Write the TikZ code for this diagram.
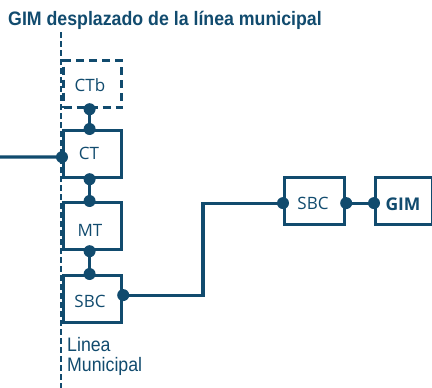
\documentclass[tikz,border=0pt]{standalone}
\usepackage{fontspec}
\setmainfont{Open Sans}
\newfontfamily\condfont[FakeStretch=0.91]{Liberation Sans}
\definecolor{mblue}{RGB}{17,75,110}
\begin{document}
\begin{tikzpicture}[x=1pt,y=-1pt,
  box/.style={draw=mblue, line width=3.2pt, minimum height=47pt, inner sep=0pt, anchor=north west},
  lbl/.style={text=mblue, anchor=base, inner sep=0pt, font=\fontsize{17}{19}\selectfont},
  cond/.style={text=mblue, anchor=base west, inner sep=0pt, font=\condfont\fontsize{19.5}{20}\selectfont},
  wire/.style={draw=mblue, line width=3.2pt},
  dot/.style={fill=mblue}
]
\useasboundingbox (0,0) rectangle (432,388);
% municipal line
\coordinate (mtop) at (61,32);
\coordinate (mbot) at (61,388);
\draw[mblue, line width=2.6pt, dash pattern=on 6pt off 3pt] (mtop) -- (mbot);
% title
\node[cond, font=\condfont\bfseries\fontsize{19.5}{20}\selectfont] (title) at (8,26) {GIM desplazado de la línea municipal};
\node[cond] (linea) at (67,351) {Linea};
\node[cond] (munic) at (67,371) {Municipal};
% boxes
\node[box, minimum width=58pt, dash pattern=on 8pt off 5pt] (ctb) at (62,59) {};
\node[box, minimum width=58pt] (ct) at (62,129) {};
\node[box, minimum width=58pt] (mt) at (62,201) {};
\node[box, minimum width=58pt] (sbca) at (62,274) {};
\node[box, minimum width=60pt] (sbcb) at (283,176) {};
\node[box, minimum width=57pt, fill=white] (gim) at (374,176) {};
% labels
\node[lbl] (tctb) at (90,92) {CTb};
\node[lbl] (tct) at (89,159) {CT};
\node[lbl] (tmt) at (90,236) {MT};
\node[lbl] (tsbca) at (90,307) {SBC};
\node[lbl] (tsbcb) at (313,209) {SBC};
\node[lbl, font=\bfseries\fontsize{17.5}{19}\selectfont] (tgim) at (403,210) {GIM};
% connection points
\coordinate (ctbS) at ([xshift=-3pt]ctb.south);
\coordinate (ctN) at ([xshift=-3pt]ct.north);
\coordinate (ctS) at ([xshift=-3pt]ct.south);
\coordinate (ctW) at ([yshift=-3pt]ct.west);
\coordinate (mtN) at ([xshift=-3pt]mt.north);
\coordinate (mtS) at ([xshift=-3pt]mt.south);
\coordinate (sbcaN) at ([xshift=-3pt]sbca.north);
\coordinate (sbcaE) at ([yshift=4pt]sbca.east);
\coordinate (sbcbW) at ([yshift=-2pt]sbcb.west);
\coordinate (sbcbE) at ([yshift=-2pt]sbcb.east);
\coordinate (gimW) at ([yshift=-2pt]gim.west);
\coordinate (feed) at (0,157);
\coordinate (bend) at (203,0);
% wires
\draw[wire] (feed) -- (ctW);
\draw[wire] (ctbS) -- (ctN);
\draw[wire] (ctS) -- (mtN);
\draw[wire] (mtS) -- (sbcaN);
\draw[wire] (sbcaE) -| (bend |- sbcbW) -- (sbcbW);
\draw[wire] (sbcbE) -- (gimW);
% dots
\foreach \p in {ctbS,ctN,ctS,ctW,mtN,mtS,sbcaN,sbcaE,sbcbW,sbcbE,gimW}
  \fill[dot] (\p) circle (6pt);
\end{tikzpicture}
\end{document}
